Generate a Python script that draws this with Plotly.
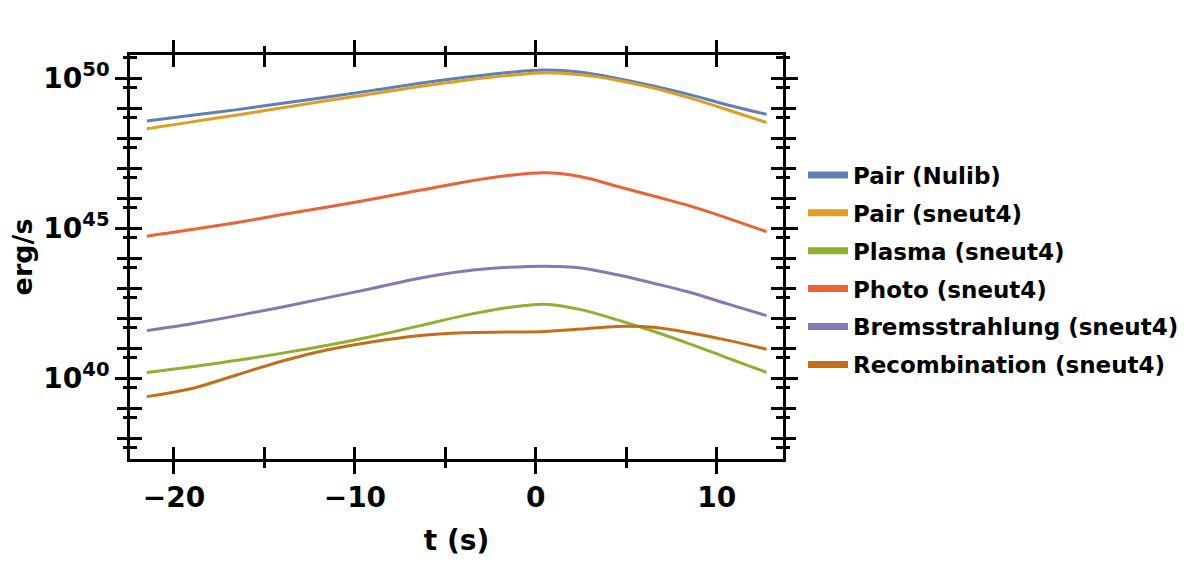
import plotly.graph_objects as go

# time (s)
t = [-21.5, -19, -16.5, -14, -11.5, -9, -6.5, -4, -1.5, 0.5, 2.5, 4.5, 6.5, 8.5, 10.5, 12.75]

# luminosities (erg/s)
pair_nulib = [3.8e48, 5.9e48, 9.1e48, 1.48e49, 2.4e49, 3.98e49, 6.76e49, 1.07e50,
              1.58e50, 1.9e50, 1.6e50, 1.0e50, 5.62e49, 2.88e49, 1.35e49, 6.31e48]
pair_sneut4 = [2.09e48, 3.55e48, 6.03e48, 1.05e49, 1.82e49, 3.09e49, 5.25e49, 8.51e49,
               1.26e50, 1.55e50, 1.32e50, 8.71e49, 4.79e49, 2.24e49, 9.33e48, 3.39e48]
plasma_sneut4 = [1.55e40, 2.45e40, 3.98e40, 6.92e40, 1.26e41, 2.51e41, 5.5e41, 1.23e42,
                 2.29e42, 2.95e42, 1.95e42, 8.91e41, 3.72e41, 1.41e41, 5.01e40, 1.58e40]
photo_sneut4 = [5.5e44, 9.1e44, 1.58e45, 2.88e45, 5.13e45, 9.55e45, 1.82e46, 3.47e46,
                5.75e46, 7.08e46, 5.25e46, 2.51e46, 1.2e46, 5.62e45, 2.29e45, 7.76e44]
brems_sneut4 = [3.89e41, 6.61e41, 1.23e42, 2.4e42, 4.9e42, 1.0e43, 2.14e43, 3.72e43,
                5.01e43, 5.5e43, 4.79e43, 2.82e43, 1.48e43, 7.41e42, 3.16e42, 1.23e42]
recomb_sneut4 = [2.45e39, 4.57e39, 1.32e40, 3.8e40, 8.91e40, 1.66e41, 2.63e41, 3.31e41,
                 3.47e41, 3.63e41, 4.37e41, 5.37e41, 5.01e41, 3.31e41, 1.91e41, 9.33e40]

names = ["Pair (Nulib)", "Pair (sneut4)", "Plasma (sneut4)", "Photo (sneut4)",
         "Bremsstrahlung (sneut4)", "Recombination (sneut4)"]
series = [pair_nulib, pair_sneut4, plasma_sneut4, photo_sneut4, brems_sneut4, recomb_sneut4]
colors = ["#5E81B5", "#E19C24", "#8FB032", "#EB6235", "#8778B3", "#C56E1A"]

x_major = [-20, -10, 0, 10]
x_minor = [-15, -5, 5]
y_labeled = [1e40, 1e45, 1e50]
y_labels = ["10<sup>40</sup>", "10<sup>45</sup>", "10<sup>50</sup>"]
y_major = [10.0 ** k for k in range(37, 52)]
y_minor = [5 * 10.0 ** k for k in range(36, 51)]

x_range = [-22.43, 13.66]
y_range = [37.31, 50.78]

FONT = "DejaVu Sans"

fig = go.Figure()
for name, ys, c in zip(names, series, colors):
    fig.add_trace(go.Scatter(x=t, y=ys, mode="lines", name=name, legendgroup=name,
                             showlegend=False, hoverinfo="x+y+name",
                             line=dict(color=c, width=3, shape="spline")))
    # legend swatch: single point (draws no visible line), thick legend stroke
    fig.add_trace(go.Scatter(x=t[:1], y=ys[:1], mode="lines", name=name, legendgroup=name,
                             showlegend=True, hoverinfo="skip", line=dict(color=c, width=7)))

# invisible traces for the overlay tick axes
fig.add_trace(go.Scatter(x=t[:1], y=pair_nulib[:1], xaxis="x2", yaxis="y2", mode="markers",
                         marker=dict(opacity=0), hoverinfo="skip", showlegend=False))
fig.add_trace(go.Scatter(x=t[:1], y=pair_nulib[:1], xaxis="x2", yaxis="y3", mode="markers",
                         marker=dict(opacity=0), hoverinfo="skip", showlegend=False))

common = dict(showgrid=False, zeroline=False, tickcolor="black", tickwidth=2.5,
              automargin=False)

fig.update_layout(
    template="none",
    width=1191, height=564,
    margin=dict(l=130, r=408, t=55, b=105, autoexpand=False),
    paper_bgcolor="white", plot_bgcolor="white",
    font=dict(family=FONT, color="black"),
    # main x axis: line, outside ticks, labels, title
    xaxis=dict(range=x_range, showline=True, linewidth=2.6, linecolor="black",
               mirror="allticks", ticks="outside", ticklen=12, tickvals=x_major,
               minor=dict(tickvals=x_minor, ticks="outside", ticklen=6,
                          tickwidth=2.5, tickcolor="black", showgrid=False),
               tickfont=dict(family=FONT, size=28, color="black", weight="bold"),
               title=dict(text="t (s)", font=dict(family=FONT, size=28, weight="bold"),
                          standoff=17),
               **common),
    # main y axis: line, labelled ticks, title
    yaxis=dict(type="log", range=y_range, showline=True, linewidth=2.6, linecolor="black",
               mirror="allticks", ticks="outside", ticklen=12, tickvals=y_labeled,
               ticktext=y_labels,
               tickfont=dict(family=FONT, size=28, color="black", weight="bold"),
               title=dict(text="erg/s", font=dict(family=FONT, size=27, weight="bold"),
                          standoff=3),
               **common),
    # inside ticks
    xaxis2=dict(range=x_range, overlaying="x", anchor="y2", side="bottom",
                showline=False, mirror="allticks", ticks="inside", ticklen=12,
                tickvals=x_major, showticklabels=False,
                minor=dict(tickvals=x_minor, ticks="inside", ticklen=7,
                           tickwidth=2.5, tickcolor="black", showgrid=False),
                **common),
    yaxis2=dict(type="log", range=y_range, overlaying="y", anchor="x2", side="left",
                showline=False, mirror="allticks", ticks="inside", ticklen=12,
                tickvals=y_major, showticklabels=False,
                minor=dict(tickvals=y_minor, ticks="inside", ticklen=7,
                           tickwidth=2.5, tickcolor="black", showgrid=False),
                **common),
    # outside decade ticks without labels
    yaxis3=dict(type="log", range=y_range, overlaying="y", anchor="x2", side="left",
                showline=False, mirror="allticks", ticks="outside", ticklen=12,
                tickvals=y_major, showticklabels=False,
                minor=dict(tickvals=y_minor, ticks="outside", ticklen=6,
                           tickwidth=2.5, tickcolor="black", showgrid=False),
                **common),
    legend=dict(x=1.0306, xanchor="left", y=0.468, yanchor="middle",
                font=dict(family=FONT, size=23, color="black", weight="bold"),
                itemwidth=40, traceorder="grouped", tracegroupgap=5,
                bgcolor="rgba(0,0,0,0)"),
    showlegend=True,
)

fig.write_html("out.html")
